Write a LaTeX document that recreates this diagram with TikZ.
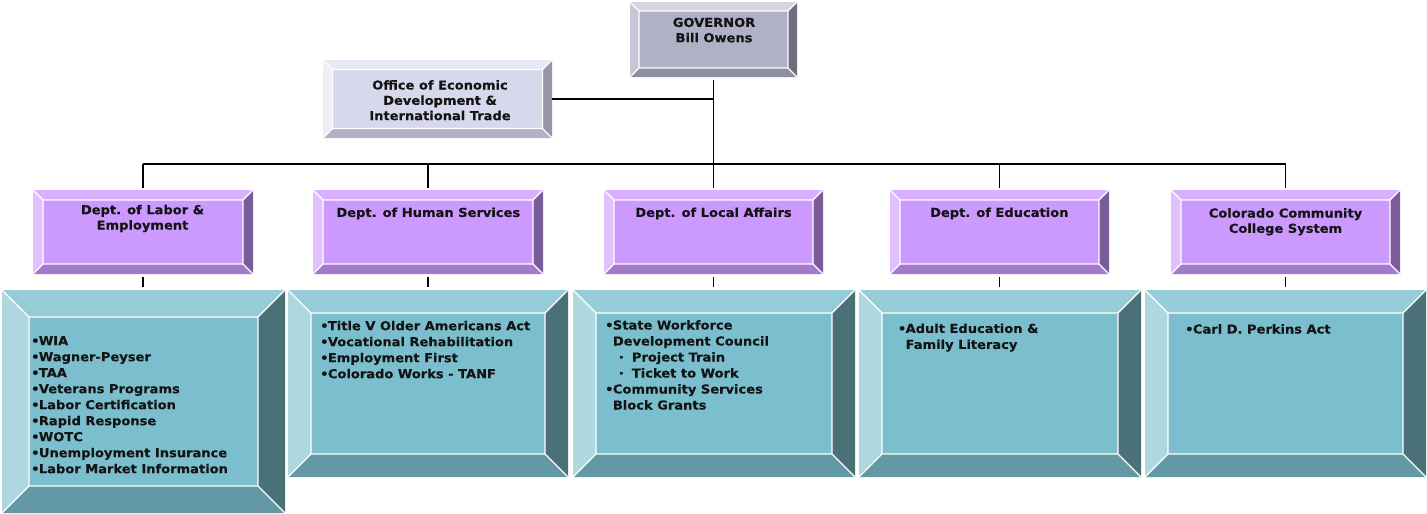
\documentclass[tikz,border=0pt]{standalone}
\usepackage{fontspec}
\setmainfont{DejaVu Sans}[BoldFeatures={FakeStretch=1.06,FakeBold=0.35}]
\usetikzlibrary{calc}
\definecolor{govF}{RGB}{176,176,198}
\definecolor{govT}{RGB}{212,212,226}
\definecolor{govL}{RGB}{198,198,214}
\definecolor{govR}{RGB}{110,110,128}
\definecolor{govB}{RGB}{142,142,162}
\definecolor{offF}{RGB}{216,216,236}
\definecolor{offT}{RGB}{232,232,244}
\definecolor{offL}{RGB}{238,238,248}
\definecolor{offR}{RGB}{150,150,168}
\definecolor{offB}{RGB}{178,178,196}
\definecolor{depF}{RGB}{204,153,255}
\definecolor{depT}{RGB}{216,176,255}
\definecolor{depL}{RGB}{224,192,255}
\definecolor{depR}{RGB}{122,92,153}
\definecolor{depB}{RGB}{163,122,204}
\definecolor{prgF}{RGB}{123,191,206}
\definecolor{prgT}{RGB}{150,204,216}
\definecolor{prgL}{RGB}{173,216,224}
\definecolor{prgR}{RGB}{74,112,120}
\definecolor{prgB}{RGB}{99,153,164}
\newcommand\mybul{\makebox[7.7pt][l]{•}}
\newcommand\myind{\hspace*{7.7pt}}
\newcommand\mysub{\hspace*{7.7pt}\makebox[19pt][l]{\hspace*{6pt}·}}
\newcommand\bevbox[7]{%
 \fill[#7T] (#2,#3) -- (#4,#3) -- ({#4-#6},{#3+#6}) -- ({#2+#6},{#3+#6}) -- cycle;
 \fill[#7B] (#2,#5) -- (#4,#5) -- ({#4-#6},{#5-#6}) -- ({#2+#6},{#5-#6}) -- cycle;
 \fill[#7L] (#2,#3) -- ({#2+#6},{#3+#6}) -- ({#2+#6},{#5-#6}) -- (#2,#5) -- cycle;
 \fill[#7R] (#4,#3) -- ({#4-#6},{#3+#6}) -- ({#4-#6},{#5-#6}) -- (#4,#5) -- cycle;
 \fill[#7F] ({#2+#6},{#3+#6}) rectangle ({#4-#6},{#5-#6});
 \draw[bevline] ({#2+#6},{#3+#6}) rectangle ({#4-#6},{#5-#6})
   (#2,#3) -- ({#2+#6},{#3+#6}) (#4,#3) -- ({#4-#6},{#3+#6})
   (#2,#5) -- ({#2+#6},{#5-#6}) (#4,#5) -- ({#4-#6},{#5-#6});
 \node[boxnode, minimum width={(#4-#2)*1pt}, minimum height={(#5-#3)*1pt}] (#1) at ({(#2+#4)/2},{(#3+#5)/2}) {};
}
\tikzset{
  bevline/.style={white, line width=1.2pt},
  boxnode/.style={inner sep=0pt, outer sep=0pt, draw=none, rectangle},
  conn/.style={black, line width=1.6pt},
  title/.style={font=\fontsize{12.3}{15.3}\selectfont\bfseries, align=center, inner sep=0pt, anchor=north, text=black!92},
  list/.style={font=\fontsize{12.3}{16}\selectfont\bfseries, align=left, inner sep=0pt, anchor=north west, text=black!92}
}
\begin{document}
\begin{tikzpicture}[x=1pt,y=-1pt]
\path[use as bounding box, fill=white] (0,0) rectangle (1427,514);
% boxes
\bevbox{gov}{630}{2}{797}{77}{9}{gov}
\bevbox{office}{323}{60}{552}{138}{9.5}{off}
\bevbox{dept1}{33}{190}{253}{274}{10}{dep}
\bevbox{dept2}{313}{190}{543}{274}{10}{dep}
\bevbox{dept3}{604}{190}{823}{274}{10}{dep}
\bevbox{dept4}{890}{190}{1109}{274}{10}{dep}
\bevbox{dept5}{1171}{190}{1400}{274}{10}{dep}
\bevbox{prog1}{2}{290}{285}{513}{27}{prg}
\bevbox{prog2}{288}{290}{568}{477}{23}{prg}
\bevbox{prog3}{573}{290}{855}{477}{23}{prg}
\bevbox{prog4}{859}{290}{1141}{477}{23}{prg}
\bevbox{prog5}{1145}{290}{1426}{477}{23}{prg}
% connectors
\coordinate (bus) at (713,164);
\draw[conn, shorten <=3pt] (gov.south) -- (gov.south |- bus);
\draw[conn] (office.east) -- (office.east -| gov.south);
\draw[conn] (dept1.north |- bus) -- (dept5.north |- bus);
\foreach \i in {1,...,5}{
  \draw[conn, shorten >=2pt] (dept\i.north |- bus) -- (dept\i.north);
  \draw[conn, shorten <=3pt, shorten >=3pt] (dept\i.south) -- (dept\i.south |- prog\i.north);
}
% titles
\node[title] (tgov) at (714,16) {\strut GOVERNOR\\Bill Owens};
\node[title] (toff) at (440,78.6) {\strut Office of Economic\\Development \&\\International Trade};
\node[title] (td1) at (142.5,203.3) {\strut Dept. of Labor \&\\Employment};
\node[title] (td2) at (428.3,206) {\strut Dept. of Human Services};
\node[title] (td3) at (713.5,206) {\strut Dept. of Local Affairs};
\node[title] (td4) at (999.3,206) {\strut Dept. of Education};
\node[title] (td5) at (1285.5,206.6) {\strut Colorado Community\\College System};
% lists
\node[list] (tp1) at (31,333.8) {\strut\mybul WIA\\\mybul Wagner-Peyser\\\mybul TAA\\\mybul Veterans Programs\\\mybul Labor Certification\\\mybul Rapid Response\\\mybul WOTC\\\mybul Unemployment Insurance\\\mybul Labor Market Information};
\node[list] (tp2) at (320,318.8) {\strut\mybul Title V Older Americans Act\\\mybul Vocational Rehabilitation\\\mybul Employment First\\\mybul Colorado Works - TANF};
\node[list] (tp3) at (605,318.1) {\strut\mybul State Workforce\\\myind Development Council\\\mysub Project Train\\\mysub Ticket to Work\\\mybul Community Services\\\myind Block Grants};
\node[list] (tp4) at (897.7,321.5) {\strut\mybul Adult Education \&\\\myind Family Literacy};
\node[list] (tp5) at (1185,322.1) {\strut\mybul Carl D. Perkins Act};
\end{tikzpicture}
\end{document}
